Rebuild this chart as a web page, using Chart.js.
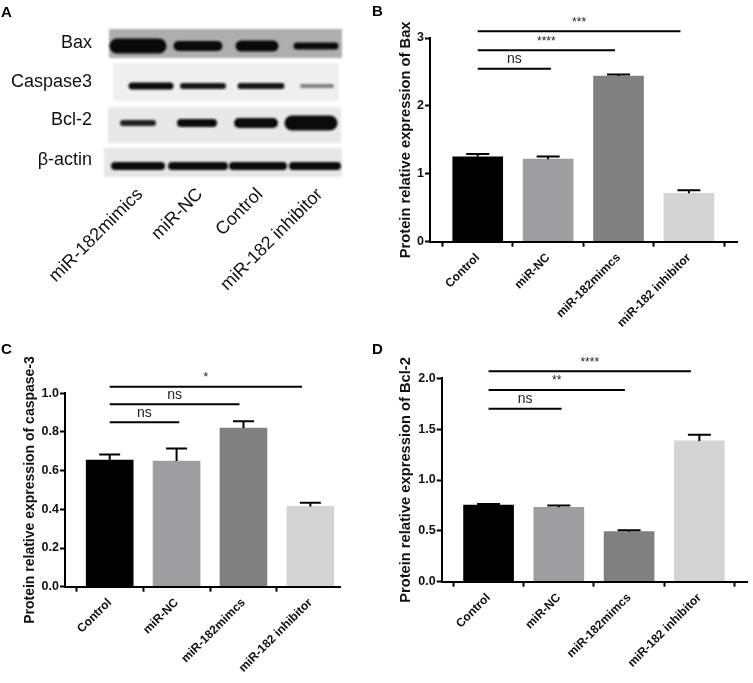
<!DOCTYPE html>
<html>
<head>
<meta charset="utf-8">
<script src="https://cdn.jsdelivr.net/npm/chart.js@4"></script>
<style>
    html, body { margin: 0; padding: 0; background: #fff; }
    body { position: relative; width: 753px; height: 683px; overflow: hidden; }
    canvas { position: absolute; filter: blur(0.35px); }
    .tag { position: absolute; font: bold 15px "Liberation Sans", Arial, sans-serif; color: #000; line-height: 15px; }
</style>
</head>
<body>
<canvas id="blotChart" width="370" height="335" style="left:0;top:0"></canvas>
<canvas id="baxChart" width="368" height="335" style="left:385px;top:0"></canvas>
<canvas id="caspaseChart" width="345" height="348" style="left:0;top:335px"></canvas>
<canvas id="bclChart" width="368" height="348" style="left:385px;top:335px"></canvas>
<div class="tag" style="left:1px;top:4px">A</div>
<div class="tag" style="left:372px;top:3px">B</div>
<div class="tag" style="left:1px;top:341px">C</div>
<div class="tag" style="left:372px;top:341px">D</div>
<script>
const FONT = '"Liberation Sans", Arial, sans-serif';

const categories = ['Control', 'miR-NC', 'miR-182mimcs', 'miR-182 inhibitor'];
const barColors = ['#000000', '#9e9ea1', '#808080', '#d4d4d4'];

// Panel B
const baxValues = [1.25, 1.215, 2.44, 0.713];
const baxErrorTops = [1.293, 1.254, 2.464, 0.757];
const baxTicks = ['0', '1', '2', '3'];
const baxSigEnds = [2.04, 2.95, 3.88];
const baxSigHeights = [2.548, 2.82, 3.10];
const baxSigLabels = ['ns', '****', '***'];

// Panel C
const caspaseValues = [0.655, 0.65, 0.82, 0.415];
const caspaseErrorTops = [0.684, 0.714, 0.855, 0.434];
const caspaseTicks = ['0.0', '0.2', '0.4', '0.6', '0.8', '1.0'];
const caspaseSigEnds = [2.04, 2.94, 3.875];
const caspaseSigHeights = [0.85, 0.943, 1.034];
const caspaseSigLabels = ['ns', 'ns', '*'];

// Panel D
const bclValues = [0.754, 0.731, 0.492, 1.384];
const bclErrorTops = [0.764, 0.75, 0.505, 1.446];
const bclTicks = ['0.0', '0.5', '1.0', '1.5', '2.0'];
const bclSigEnds = [2.04, 2.94, 3.88];
const bclSigHeights = [1.70, 1.885, 2.07];
const bclSigLabels = ['ns', '**', '****'];

// Panel A, the blot: units along the gel and down the gel
const laneLabels = ['miR-182mimics', 'miR-NC', 'Control', 'miR-182 inhibitor'];
const laneTicks = [36, 96, 156, 216];
const rowLabels = ['Bax', 'Caspase3', 'Bcl-2', '\u03b2-actin'];
const rowTicks = [14, 53, 91, 131];
const gelLeft = [5, 9, 4, 0];
const gelRight = [238, 235, 237, 238];
const gelTop = [0, 34, 78, 119];
const gelBottom = [29, 72, 114, 148];
const gelShade = ['#aeaeae', '#efefef', '#e8e8e8', '#e6e6e6'];
const bandRows = [17, 57, 94, 137];
const bandCenters = [
    [34, 94, 153, 212],
    [47, 99, 157, 213],
    [34, 93, 152, 207],
    [34, 94, 154, 211]
];
const bandWidths = [
    [42, 39, 32, 38],
    [38, 40, 41, 30],
    [30, 32, 34, 38],
    [46, 52, 50, 44]
];
const bandHeights = [
    [15, 10, 11, 7],
    [7, 6, 6, 4],
    [6, 8, 10, 15],
    [8, 8, 8, 8]
];
const bandDensity = [
    [1, 1, 1, 1],
    [1, 0.95, 0.95, 0.5],
    [0.9, 1, 1, 1],
    [1, 1, 1, 1]
];

const errorCapsPlugin = {
    id: 'errorCaps',
    afterDatasetsDraw(chart, args, opts) {
        const { ctx, scales } = chart;
        ctx.save();
        ctx.strokeStyle = '#000';
        ctx.lineWidth = 2;
        opts.tops.forEach((top, i) => {
            const x = scales.x.getPixelForValue(i + 1);
            const yBar = scales.y.getPixelForValue(opts.values[i]);
            const yTop = scales.y.getPixelForValue(top);
            ctx.beginPath();
            ctx.moveTo(x, yBar);
            ctx.lineTo(x, yTop);
            ctx.moveTo(x - opts.capWidth / 2, yTop);
            ctx.lineTo(x + opts.capWidth / 2, yTop);
            ctx.stroke();
        });
        ctx.restore();
    }
};

const sigTextPlugin = {
    id: 'sigText',
    afterDatasetsDraw(chart, args, opts) {
        const { ctx, scales } = chart;
        ctx.save();
        ctx.fillStyle = '#222';
        ctx.textAlign = 'center';
        ctx.textBaseline = 'alphabetic';
        opts.labels.forEach((label, i) => {
            const x = scales.x.getPixelForValue((1 + opts.ends[i]) / 2);
            const y = scales.y.getPixelForValue(opts.heights[i]);
            ctx.font = (label === 'ns' ? '14px ' : '12px ') + FONT;
            ctx.fillText(label, x, y - 5.5);
        });
        ctx.restore();
    }
};

function drawBarPanel(id, cfg) {
    const bars = {
        type: 'bar',
        data: categories.map((c, i) => ({ x: i + 1, y: cfg.values[i] })),
        backgroundColor: barColors,
        barThickness: cfg.barWidth,
        order: 2
    };
    const brackets = cfg.sigEnds.map((end, i) => ({
        type: 'line',
        data: [{ x: 1, y: cfg.sigHeights[i] }, { x: end, y: cfg.sigHeights[i] }],
        borderColor: '#000',
        borderWidth: 2,
        pointRadius: 0,
        clip: false,
        order: 1
    }));

    new Chart(document.getElementById(id), {
        data: { datasets: [bars, ...brackets] },
        plugins: [errorCapsPlugin, sigTextPlugin],
        options: {
            responsive: false,
            animation: false,
            layout: { padding: cfg.padding },
            plugins: {
                legend: { display: false },
                tooltip: { enabled: false },
                errorCaps: { values: cfg.values, tops: cfg.tops, capWidth: cfg.capWidth },
                sigText: { labels: cfg.sigLabels, ends: cfg.sigEnds, heights: cfg.sigHeights }
            },
            scales: {
                x: {
                    type: 'linear',
                    offset: false,
                    min: cfg.xMin,
                    max: cfg.xMax,
                    afterFit(scale) { scale.height = cfg.xHeight; },
                    afterBuildTicks(scale) { scale.ticks = categories.map((c, i) => ({ value: i + 1 })); },
                    border: { color: '#000', width: 2, z: 1 },
                    grid: { drawOnChartArea: false, tickLength: 5, tickWidth: 2, tickColor: '#000' },
                    ticks: {
                        color: '#111',
                        autoSkip: false,
                        minRotation: 45,
                        maxRotation: 45,
                        padding: 4,
                        font: { family: FONT, size: 12, weight: 'bold' },
                        callback: (v, i) => categories[i]
                    }
                },
                y: {
                    min: 0,
                    max: +cfg.ticks[cfg.ticks.length - 1],
                    afterFit(scale) { scale.width = cfg.yWidth; },
                    afterBuildTicks(scale) { scale.ticks = cfg.ticks.map(t => ({ value: +t })); },
                    border: { color: '#000', width: 2, z: 1 },
                    grid: { drawOnChartArea: false, tickLength: 5, tickWidth: 2, tickColor: '#000' },
                    ticks: {
                        color: '#111',
                        padding: 1,
                        font: { family: FONT, size: 12.5, weight: 'bold' },
                        callback: (v, i) => cfg.ticks[i]
                    },
                    title: {
                        display: true,
                        text: cfg.title,
                        color: '#111',
                        padding: { top: cfg.titleInset, bottom: 0 },
                        font: { family: FONT, size: cfg.titleSize, weight: 'bold' }
                    }
                }
            }
        }
    });
}

drawBarPanel('baxChart', {
    values: baxValues, tops: baxErrorTops, ticks: baxTicks,
    sigEnds: baxSigEnds, sigHeights: baxSigHeights, sigLabels: baxSigLabels,
    title: 'Protein relative expression of Bax', titleSize: 14.7,
    barWidth: 50, capWidth: 23, titleInset: 12,
    xMin: 0.322, xMax: 4.683, yWidth: 45, xHeight: 93.3,
    padding: { top: 38, right: 16, bottom: 0, left: 0 }
});

drawBarPanel('caspaseChart', {
    values: caspaseValues, tops: caspaseErrorTops, ticks: caspaseTicks,
    sigEnds: caspaseSigEnds, sigHeights: caspaseSigHeights, sigLabels: caspaseSigLabels,
    title: 'Protein relative expression of caspase-3', titleSize: 14,
    barWidth: 47, capWidth: 21, titleInset: 22,
    xMin: 0.332, xMax: 4.443, yWidth: 65, xHeight: 96.3,
    padding: { top: 58.3, right: 5, bottom: 0, left: 0 }
});

drawBarPanel('bclChart', {
    values: bclValues, tops: bclErrorTops, ticks: bclTicks,
    sigEnds: bclSigEnds, sigHeights: bclSigHeights, sigLabels: bclSigLabels,
    title: 'Protein relative expression of Bcl-2', titleSize: 14.7,
    barWidth: 50, capWidth: 23, titleInset: 12,
    xMin: 0.333, xMax: 4.688, yWidth: 56.7, xHeight: 101.3,
    padding: { top: 43.3, right: 5.3, bottom: 0, left: 0 }
});

// Panel A: each band is a short thick line, softened while it is drawn
const gelPlugin = {
    id: 'gelRows',
    beforeDatasetsDraw(chart) {
        const { ctx, scales } = chart;
        ctx.save();
        ctx.filter = 'blur(1px)';
        rowLabels.forEach((r, i) => {
            const x0 = scales.x.getPixelForValue(gelLeft[i]);
            const x1 = scales.x.getPixelForValue(gelRight[i]);
            const y0 = scales.y.getPixelForValue(gelTop[i]);
            const y1 = scales.y.getPixelForValue(gelBottom[i]);
            ctx.fillStyle = gelShade[i];
            ctx.fillRect(x0, y0, x1 - x0, y1 - y0);
        });
        ctx.restore();
    },
    beforeDatasetDraw(chart) {
        chart.ctx.save();
        chart.ctx.filter = 'blur(1.3px)';
    },
    afterDatasetDraw(chart) {
        chart.ctx.restore();
    }
};

const bandSets = [];
rowLabels.forEach((row, r) => {
    laneLabels.forEach((lane, l) => {
        const shade = Math.round(235 * (1 - bandDensity[r][l]) + 10);
        bandSets.push({
            type: 'line',
            data: [
                { x: bandCenters[r][l] - bandWidths[r][l] / 2, y: bandRows[r] },
                { x: bandCenters[r][l] + bandWidths[r][l] / 2, y: bandRows[r] }
            ],
            borderColor: `rgb(${shade},${shade},${shade})`,
            borderWidth: bandHeights[r][l],
            borderCapStyle: 'round',
            pointRadius: 0,
            clip: false
        });
    });
});

new Chart(document.getElementById('blotChart'), {
    data: { datasets: bandSets },
    plugins: [gelPlugin],
    options: {
        responsive: false,
        animation: false,
        layout: { padding: { top: 29, right: 28, bottom: 0, left: 0 } },
        plugins: { legend: { display: false }, tooltip: { enabled: false } },
        scales: {
            x: {
                type: 'linear',
                min: 0,
                max: 238,
                afterFit(scale) { scale.height = 158; },
                afterBuildTicks(scale) { scale.ticks = laneTicks.map(v => ({ value: v })); },
                border: { display: false },
                grid: { display: false, drawTicks: false },
                ticks: {
                    color: '#111',
                    autoSkip: false,
                    minRotation: 45,
                    maxRotation: 45,
                    padding: 7,
                    font: { family: FONT, size: 18 },
                    callback: (v, i) => laneLabels[i]
                }
            },
            y: {
                min: 0,
                max: 148,
                reverse: true,
                afterFit(scale) { scale.width = 104; },
                afterBuildTicks(scale) { scale.ticks = rowTicks.map(v => ({ value: v })); },
                border: { display: false },
                grid: { display: false, drawTicks: false },
                ticks: {
                    color: '#111',
                    padding: 12,
                    font: { family: FONT, size: 18 },
                    callback: (v, i) => rowLabels[i]
                }
            }
        }
    }
});
</script>
</body>
</html>
